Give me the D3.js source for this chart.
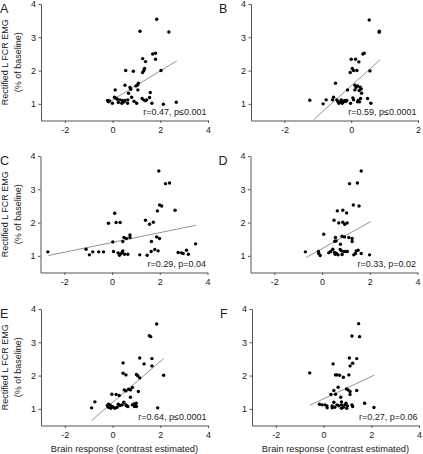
<!DOCTYPE html>
<html><head><meta charset="utf-8">
<script src="https://cdn.jsdelivr.net/npm/d3@7"></script>
<style>
html,body{margin:0;padding:0;background:#fff;}
svg{display:block;font-family:Arial,"Liberation Sans",sans-serif;}
</style></head>
<body><svg id="c" width="423" height="454"></svg>
<script>
// ---- data ----
const yTicks = [1, 2, 3, 4];
const xTicksWide = [-2, 0, 2, 4];
const xTicksNarrow = [-2, 0, 2];
const panelLetters = ["A", "B", "C", "D", "E", "F"];
const statLabels = ["r=0.47, p\u22640.001", "r=0.59, p\u22640.0001", "r=0.29, p=0.04",
                    "r=0.33, p=0.02", "r=0.64, p\u22640.0001", "r=0.27, p=0.06"];
const yLabel1 = "Rectified L FCR EMG";
const yLabel2 = "(% of baseline)";
const xLabel = "Brain response (contrast estimated)";

const pointsA = [[1.85,3.54],[1.15,3.18],[2.36,3.16],[1.68,2.50],[1.80,2.52],[1.80,2.34],[1.26,2.36],[1.38,2.27],[1.34,2.06],[1.31,2.00],[1.26,1.94],[2.03,2.00],[0.55,2.00],[0.87,1.98],[1.08,1.62],[1.05,1.57],[0.98,1.54],[0.52,1.56],[0.73,1.49],[0.76,1.44],[1.06,1.42],[0.11,1.42],[1.58,1.34],[0.67,1.32],[0.08,1.20],[0.80,1.20],[1.55,1.19],[1.24,1.16],[1.30,1.12],[1.38,1.09],[1.43,1.12],[0.20,1.14],[0.31,1.12],[0.41,1.10],[0.52,1.10],[0.64,1.12],[-0.21,1.10],[-0.18,1.06],[-0.13,1.09],[-0.01,1.02],[0.24,1.04],[0.39,1.02],[0.48,1.06],[0.63,1.02],[1.01,1.02],[1.65,1.02],[2.13,0.99],[2.67,1.05],[0.14,1.17],[0.90,1.08]];
const pointsB = [[0.54,3.52],[0.84,3.18],[0.84,3.15],[0.35,2.50],[0.39,2.52],[0.00,2.34],[0.13,2.34],[0.23,2.26],[0.03,2.06],[0.07,2.00],[0.17,2.00],[-0.03,1.94],[0.56,1.99],[-0.47,1.62],[0.11,1.56],[0.19,1.54],[0.15,1.50],[0.27,1.50],[0.30,1.45],[-0.11,1.42],[0.11,1.42],[0.24,1.40],[0.31,1.32],[-1.24,1.11],[-0.75,1.12],[-0.84,1.00],[-0.53,1.20],[-0.56,1.12],[-0.43,1.12],[-0.40,1.07],[-0.37,1.02],[-0.32,1.06],[-0.27,1.02],[-0.23,1.06],[-0.20,1.10],[-0.17,1.07],[-0.13,1.10],[-0.02,1.02],[0.05,1.18],[0.07,1.12],[0.21,1.10],[0.28,1.16],[0.25,1.06],[0.49,1.16],[0.59,1.02],[0.19,1.06],[-0.30,1.12]];
const pointsC = [[1.96,3.55],[2.24,3.17],[2.41,3.19],[1.99,2.53],[2.08,2.50],[1.90,2.35],[2.64,2.37],[0.11,2.28],[-0.15,1.98],[0.17,2.00],[0.34,2.00],[1.40,2.07],[1.57,1.95],[1.73,2.01],[0.03,1.42],[0.50,1.55],[0.45,1.43],[0.60,1.52],[0.75,1.63],[0.75,1.55],[1.87,1.57],[1.99,1.52],[1.65,1.43],[-2.69,1.12],[-1.09,1.20],[-0.81,1.12],[-0.95,1.03],[-0.56,1.12],[-0.36,1.12],[0.06,1.13],[0.25,1.09],[0.31,1.02],[0.35,1.06],[0.42,1.10],[0.45,1.15],[0.52,1.05],[0.66,1.05],[1.16,1.03],[1.47,1.02],[1.64,1.13],[1.79,1.19],[1.93,1.15],[2.77,1.10],[2.91,1.09],[2.98,1.07],[3.12,1.17],[3.20,1.05],[3.50,1.36]];
const pointsD = [[1.64,3.55],[1.15,3.17],[1.48,3.19],[1.31,2.53],[1.55,2.50],[0.64,2.35],[0.87,2.37],[1.03,2.29],[0.50,2.07],[0.70,1.99],[0.87,2.01],[0.95,1.95],[1.05,1.99],[0.07,1.65],[0.56,1.55],[0.53,1.44],[0.59,1.45],[0.84,1.59],[0.94,1.57],[1.12,1.55],[1.26,1.52],[1.26,1.43],[0.77,1.35],[-0.70,1.12],[-0.15,1.13],[-0.14,1.07],[-0.08,1.01],[0.28,1.09],[0.36,1.13],[0.45,1.20],[0.52,1.10],[0.55,1.05],[0.60,1.08],[0.67,1.03],[0.76,1.19],[0.81,1.15],[0.84,1.04],[0.91,1.13],[1.01,1.13],[1.06,1.13],[1.33,1.03],[1.43,1.15],[1.51,1.17],[1.64,1.07],[1.99,1.03],[1.40,1.07]];
const pointsE = [[1.85,3.55],[1.54,3.20],[1.60,3.17],[1.14,2.53],[1.65,2.51],[1.32,2.35],[1.65,2.29],[0.44,2.38],[0.44,2.07],[0.56,2.02],[1.00,2.03],[1.06,1.99],[1.14,1.93],[2.14,2.01],[0.83,1.64],[0.67,1.59],[0.75,1.57],[0.49,1.57],[0.56,1.54],[1.08,1.52],[-0.03,1.44],[0.15,1.43],[0.28,1.40],[0.75,1.35],[0.47,1.20],[0.24,1.14],[0.31,1.10],[0.40,1.12],[0.56,1.12],[0.58,1.09],[0.64,1.07],[-0.74,1.21],[-0.88,1.03],[-0.22,1.10],[-0.17,1.14],[-0.11,1.12],[-0.17,1.05],[-0.08,1.02],[0.03,1.05],[0.10,1.02],[0.19,1.05],[-0.03,1.07],[0.83,1.12],[0.90,1.15],[0.94,1.12],[0.99,1.17],[0.92,1.07],[1.00,1.07],[1.89,1.03]];
const pointsF = [[1.47,3.56],[1.19,3.19],[1.51,3.17],[1.08,2.53],[1.39,2.51],[1.22,2.37],[1.11,2.29],[0.40,2.35],[-0.58,2.08],[0.50,2.02],[0.56,2.02],[0.67,2.01],[0.83,1.95],[1.06,2.02],[0.61,1.65],[0.96,1.60],[1.03,1.57],[1.11,1.52],[1.39,1.55],[0.43,1.55],[0.31,1.43],[0.50,1.44],[0.72,1.35],[1.11,1.43],[0.43,1.20],[0.75,1.21],[-0.17,1.14],[-0.06,1.12],[0.06,1.12],[0.14,1.09],[0.15,1.03],[0.36,1.09],[0.36,1.03],[0.47,1.05],[0.56,1.12],[0.64,1.09],[0.75,1.12],[0.83,1.05],[0.89,1.12],[0.94,1.17],[1.00,1.09],[0.97,1.02],[1.19,1.12],[1.22,1.07],[1.72,1.17],[2.11,1.04],[0.75,1.02]];

// regression lines [x1, y1, x2, y2]
const fitA = [-0.11, 1.07, 2.69, 2.29];
const fitB = [-1.13, 0.52, 0.86, 2.32];
const fitC = [-2.67, 1.01, 3.52, 1.92];
const fitD = [-0.67, 0.95, 2.04, 2.03];
const fitE = [-0.88, 0.65, 2.14, 2.51];
const fitF = [-0.57, 1.11, 2.12, 2.01];

const xDomains = [[-3, 4], [-3, 2], [-3, 4], [-3, 4], [-3, 4], [-3, 4]];
const yDomain = [0.5, 4];

// ---- layout ----
const panels = [
  {pts: pointsA, fit: fitA, left: 41, top: 4},
  {pts: pointsB, fit: fitB, left: 251, top: 4},
  {pts: pointsC, fit: fitC, left: 40.5, top: 156},
  {pts: pointsD, fit: fitD, left: 250.5, top: 156},
  {pts: pointsE, fit: fitE, left: 41, top: 309},
  {pts: pointsF, fit: fitF, left: 252, top: 309}
];
const W = 167, H = 116.5;
const svg = d3.select("#c");
const axisColor = "#555", textColor = "#222";

panels.forEach((p, i) => {
  const dom = xDomains[i];
  const x = d3.scaleLinear().domain(dom).range([p.left, p.left + W]);
  const y = d3.scaleLinear().domain(yDomain).range([p.top + H, p.top]);
  const g = svg.append("g");
  const xt = dom[1] === 2 ? xTicksNarrow : xTicksWide;

  const xa = g.append("g").attr("transform", `translate(0,${p.top + H})`)
    .call(d3.axisBottom(x).tickValues(xt).tickSize(2.5).tickSizeOuter(0).tickFormat(d3.format("d")));
  const ya = g.append("g").attr("transform", `translate(${p.left},0)`)
    .call(d3.axisLeft(y).tickValues(yTicks).tickSize(2.5).tickSizeOuter(0).tickFormat(d3.format("d")));
  [xa, ya].forEach(a => {
    a.selectAll("path,line").attr("stroke", axisColor).attr("stroke-width", 1);
    a.selectAll("text").attr("fill", textColor).style("font-size", "9px")
      .style("font-family", "Arial, 'Liberation Sans', sans-serif");
  });
  xa.selectAll("text").attr("dy", "0.71em").attr("y", 6);
  ya.selectAll("text").attr("x", -5);
  xa.selectAll("text").text(d => d < 0 ? "-" + Math.abs(d) : d);

  // fit line
  g.append("line")
    .attr("x1", x(p.fit[0])).attr("y1", y(p.fit[1]))
    .attr("x2", x(p.fit[2])).attr("y2", y(p.fit[3]))
    .attr("stroke", "#777").attr("stroke-width", 0.8);

  // points
  g.selectAll("circle").data(p.pts).join("circle")
    .attr("cx", d => x(d[0])).attr("cy", d => y(d[1])).attr("r", 1.7)
    .attr("fill", "#000");

  // stat label
  g.append("text").attr("x", p.left + W - 1.5).attr("y", p.top + H - 5.5)
    .attr("text-anchor", "end").attr("fill", textColor).style("font-size", "9px")
    .text(statLabels[i]);

  // panel letter
  const right = i % 2 === 1;
  g.append("text").attr("x", right ? p.left - 32 : 0).attr("y", p.top + 9)
    .attr("fill", textColor).style("font-size", "12.5px").text(panelLetters[i]);

  if (!right) {
    const cy = p.top + H / 2;
    g.append("text").attr("transform", `translate(7.5,${cy}) rotate(-90)`)
      .attr("text-anchor", "middle").attr("fill", textColor).style("font-size", "9px").text(yLabel1);
    g.append("text").attr("transform", `translate(21,${cy}) rotate(-90)`)
      .attr("text-anchor", "middle").attr("fill", textColor).style("font-size", "9px").text(yLabel2);
  }
  if (i >= 4) {
    g.append("text").attr("x", p.left + W / 2).attr("y", 452)
      .attr("text-anchor", "middle").attr("fill", textColor).style("font-size", "9.3px").text(xLabel);
  }
});
</script></body></html>
